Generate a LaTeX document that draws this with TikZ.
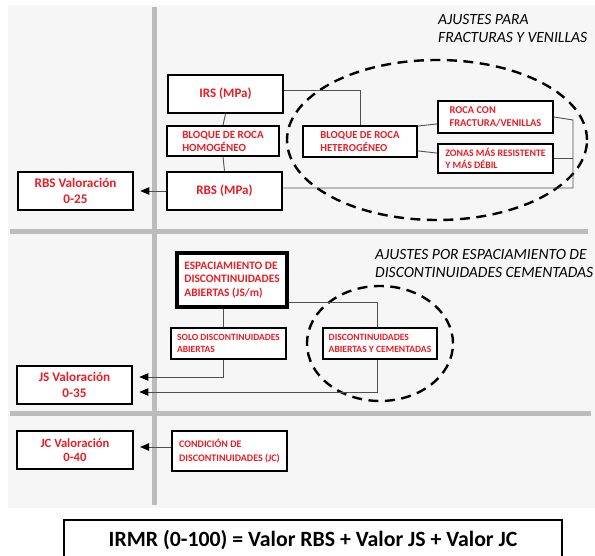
\documentclass[tikz,border=0pt]{standalone}
\usepackage{fontspec}
\setmainfont{Carlito}
\usetikzlibrary{arrows.meta,shapes.geometric}
\definecolor{rojo}{RGB}{235,28,36}
\definecolor{divgray}{RGB}{188,188,188}
\definecolor{conn}{RGB}{80,80,80}
\definecolor{bgray}{RGB}{246,246,246}
\newcommand{\fs}[1]{\fontsize{#1}{#1}\selectfont}
\begin{document}
\begin{tikzpicture}[x=1pt,y=-1pt,
  box/.style={draw=black, line width=2.6pt, fill=white, inner sep=1pt, text=rojo, font=\bfseries, align=center},
  thinbox/.style={box, line width=1.8pt},
  conline/.style={draw=conn, line width=0.9pt},
  arr/.style={conline, -{Triangle[length=9pt,width=7.5pt,color=black]}, shorten >=6pt},
  divider/.style={draw=divgray, line width=5pt},
  ell/.style={draw=black, line width=2.4pt, dash pattern=on 10pt off 6.5pt, ellipse, inner sep=0pt},
  note/.style={font=\itshape\fontsize{15.6}{18}\selectfont, align=left, anchor=west, inner sep=0pt, text=black}]
\useasboundingbox (0,0) rectangle (595,556);
\fill[white] (0,0) rectangle (595,556);
\fill[bgray] (8,5) rectangle (595,508);
% dividers
\draw[divider] (154,7) -- (154,505);
\draw[divider] (10,232) -- (588,232);
\draw[divider] (10,413) -- (591,413);
% notes
\node[note] (n1) at (438,29) {AJUSTES PARA\\FRACTURAS Y VENILLAS};
\node[note] (n2) at (375,263) {AJUSTES POR ESPACIAMIENTO DE\\DISCONTINUIDADES CEMENTADAS};
% ellipses
\node[ell, minimum width=300pt, minimum height=160pt] (e1) at (437,140) {};
\node[ell, minimum width=146pt, minimum height=115pt] (e2) at (380,343.5) {};
% section 1
\node[box, minimum width=115pt, minimum height=38pt, font=\bfseries\fs{13}] (irs) at (225.5,94) {IRS (MPa)};
\node[thinbox, minimum width=112pt, minimum height=30pt, font=\bfseries\fs{11}, align=left] (homog) at (223,141) {BLOQUE DE ROCA\\[2pt]HOMOGÉNEO};
\node[box, minimum width=115pt, minimum height=38pt, font=\bfseries\fs{13}] (rbs) at (224.5,191) {RBS (MPa)};
\node[box, minimum width=115pt, minimum height=38pt, font=\bfseries\fs{13.2}] (rbsval) at (75.5,191) {RBS Valoración\\[2pt]0-25};
\node[thinbox, minimum width=114pt, minimum height=31pt, font=\bfseries\fs{10.7}, align=left] (hetero) at (360,141.5) {BLOQUE DE ROCA\\[2pt]HETEROGÉNEO};
\node[thinbox, minimum width=115pt, minimum height=32pt, font=\bfseries\fs{10.4}, align=left] (roca) at (495.5,117) {ROCA CON\\[2pt]FRACTURA/VENILLAS};
\node[thinbox, minimum width=115pt, minimum height=29pt, font=\bfseries\fs{9.9}, align=left] (zonas) at (495.5,158.5) {ZONAS MÁS RESISTENTE\\[2pt]Y MÁS DÉBIL};
\coordinate (rj) at (573,120);
\draw[conline] (irs.south) -- (homog.north);
\draw[conline] (homog.south) -- (rbs.north);
\draw[conline] ([yshift=4pt]irs.east) -| (hetero.north);
\draw[conline] ([yshift=3pt]rbs.east) -| (rj) -- (roca.east);
\draw[conline] (zonas.east) -- (zonas.east -| rj);
\draw[conline] ([yshift=-1pt]hetero.north east) -- ([yshift=10pt]roca.south west);
\draw[conline] ([yshift=7pt]hetero.south east) -- ([yshift=-10pt]zonas.north west);
\draw[arr] (rbs.west) -- (rbsval.east);
% section 2
\node[box, line width=3.2pt, minimum width=110pt, minimum height=54pt, font=\bfseries\fs{11.4}, align=left] (esp) at (232,280) {ESPACIAMIENTO DE\\[2pt]DISCONTINUIDADES\\[2pt]ABIERTAS (JS/m)};
\node[thinbox, minimum width=115pt, minimum height=31pt, font=\bfseries\fs{9.5}, align=left] (solo) at (228.5,343.5) {SOLO DISCONTINUIDADES\\[2pt]ABIERTAS};
\node[box, minimum width=115pt, minimum height=38pt, font=\bfseries\fs{13.2}] (jsval) at (74.5,385) {JS Valoración\\[2pt]0-35};
\node[thinbox, minimum width=114pt, minimum height=31pt, font=\bfseries\fs{9.6}, align=left] (disc) at (380,343.5) {DISCONTINUIDADES\\[2pt]ABIERTAS Y CEMENTADAS};
\coordinate (jsx) at (223,320);
\coordinate (dx) at (377,320);
\draw[conline] (esp.south -| jsx) -- (solo.north -| jsx);
\draw[arr] (solo.south -| jsx) |- ([yshift=8pt]jsval.east);
\draw[conline] ([yshift=6pt]esp.south east) -| (disc.north -| dx);
\draw[arr] (disc.south -| dx) |- ([yshift=-7pt]jsval.east);
% section 3
\node[box, line width=2.2pt, minimum width=116pt, minimum height=38pt, font=\bfseries\fs{12.6}] (jcval) at (75,450) {JC Valoración\\[2pt]0-40};
\node[box, line width=2.2pt, minimum width=115pt, minimum height=40pt, font=\bfseries\fs{10}, align=left] (cond) at (229.5,451) {CONDICIÓN DE\\[4pt]DISCONTINUIDADES (JC)};
\draw[arr] ([yshift=4pt]cond.west) -- ([yshift=4pt]cond.west -| jcval.east);
% formula
\node[draw=black, line width=2.2pt, fill=white, minimum width=498pt, minimum height=40pt, font=\bfseries\fs{21.8}] (irmr) at (313,540) {IRMR (0-100) = Valor RBS + Valor JS + Valor JC};
\end{tikzpicture}
\end{document}
